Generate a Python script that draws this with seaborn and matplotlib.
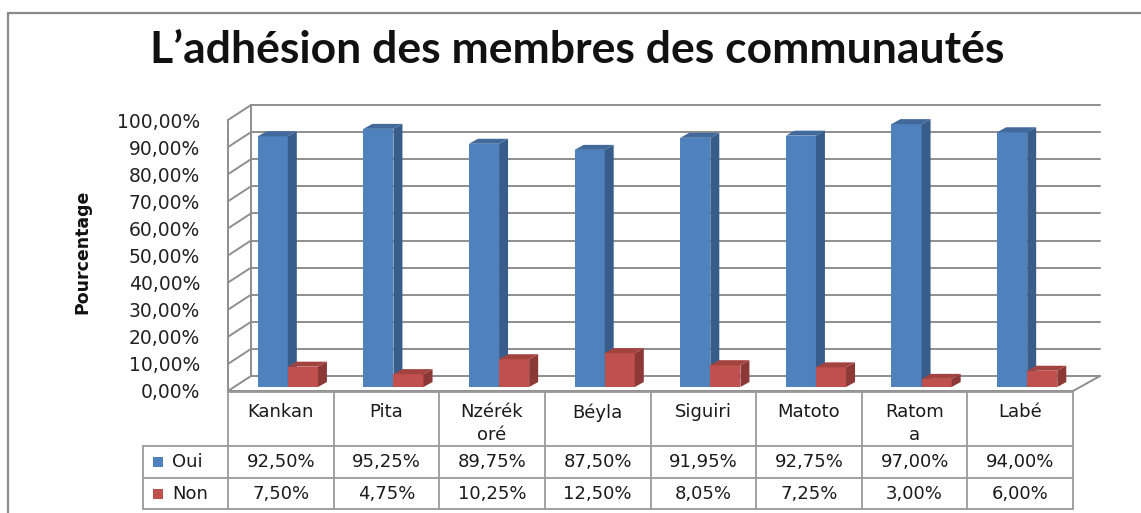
import numpy as np
import pandas as pd
import seaborn as sns
import matplotlib
matplotlib.use("Agg")
from matplotlib import pyplot as plt
from matplotlib.patches import Polygon, Rectangle
from matplotlib.lines import Line2D
import matplotlib.transforms as mtransforms

sns.set_theme(style="white")
plt.rcParams['font.family'] = ['DejaVu Sans']

communes = ["Kankan", "Pita", "Nzérékoré", "Béyla", "Siguiri", "Matoto", "Ratoma", "Labé"]
table_labels = ["Kankan", "Pita", "Nzérék\noré", "Béyla", "Siguiri", "Matoto", "Ratom\na", "Labé"]
oui = [92.50, 95.25, 89.75, 87.50, 91.95, 92.75, 97.00, 94.00]
non = [7.50, 4.75, 10.25, 12.50, 8.05, 7.25, 3.00, 6.00]
series = ["Oui", "Non"]
yticks = list(range(0, 101, 10))

colors = ["#4F81BD", "#C0504D"]
side_colors = ["#385D8A", "#8C3836"]
top_colors = ["#41699B", "#A3433F"]
grid_color = "#8E8E8E"
body_font = ["DejaVu Sans"]

df = pd.DataFrame({
    "Commune": communes * 2,
    "Valeur": oui + non,
    "Réponse": ["Oui"] * len(communes) + ["Non"] * len(communes),
})

W, H = 1141, 513
fig = plt.figure(figsize=(W / 100, H / 100), dpi=100)

# front edge of the floor / left wall in pixels
left_px, right_px, base_px, top_px = 228, 1073, 391, 120
ax = fig.add_axes([left_px / W, 1 - base_px / H,
                   (right_px - left_px) / W, (base_px - top_px) / H])

sns.barplot(data=df, x="Commune", y="Valeur", hue="Réponse", order=communes,
            hue_order=series, palette=colors, width=0.57, saturation=1,
            legend=False, ax=ax, errorbar=None, linewidth=0)
ax.set_xlim(-0.5, len(communes) - 0.5)
ax.set_ylim(0, 100)

# pixel -> data unit helpers
px_x = (len(communes)) / (right_px - left_px)
px_y = 100 / (base_px - top_px)

# 3D look: bars sit a bit back into the box
shift_x, shift_y = 7 * px_x, 4 * px_y
dx, dy = 9 * px_x, 5 * px_y
n = len(communes)
for i, p in enumerate(ax.patches[:2 * n]):
    s = i // n
    p.set_x(p.get_x() + shift_x)
    p.set_y(shift_y)
    p.set_zorder(3 + s)
    x0, x1 = p.get_x(), p.get_x() + p.get_width()
    y0, y1 = shift_y, shift_y + p.get_height()
    side = Polygon([(x1, y0), (x1, y1), (x1 + dx, y1 + dy), (x1 + dx, y0 + dy)],
                   closed=True, facecolor=side_colors[s], edgecolor="none",
                   zorder=3 + s + 0.1, clip_on=False)
    top = Polygon([(x0, y1), (x1, y1), (x1 + dx, y1 + dy), (x0 + dx, y1 + dy)],
                  closed=True, facecolor=top_colors[s], edgecolor="none",
                  zorder=3 + s + 0.1, clip_on=False)
    ax.add_patch(side)
    ax.add_patch(top)

# back wall, left wall, floor
wl, wr, wy = 23 * px_x, 27 * px_x, 15 * px_y
xl, xr = -0.5, n - 0.5
for t in yticks:
    ax.add_line(Line2D([xl + wl, xr + wr], [t + wy, t + wy], color=grid_color,
                       lw=1.4, zorder=1, clip_on=False))
    ax.add_line(Line2D([xl, xl + wl], [t, t + wy], color=grid_color,
                       lw=1.4, zorder=1, clip_on=False))
ax.add_line(Line2D([xl, xl], [0, 100], color=grid_color, lw=1.4, clip_on=False))
ax.add_line(Line2D([xl + wl, xl + wl], [wy, 100 + wy], color=grid_color, lw=1.4, clip_on=False))
ax.add_line(Line2D([xl, xr], [0, 0], color=grid_color, lw=1.4, clip_on=False))
ax.add_line(Line2D([xr, xr + wr], [0, wy], color=grid_color, lw=1.4, clip_on=False))

for sp in ax.spines.values():
    sp.set_visible(False)
ax.set_xticks([])
ax.set_yticks(yticks)
ax.set_yticklabels([f"{t},00%" for t in yticks], fontsize=13.5, color="#222222",
                   family=body_font)
ax.tick_params(axis="y", length=0, pad=20)
ax.set_xlabel("")
ax.set_ylabel("")

# data table under the chart
tr = mtransforms.blended_transform_factory(ax.transData, fig.transFigure)
def fy(px):
    return 1 - px / H

tc = "#9A9A9A"
row_top, row_head, row_oui, row_non = 392, 446, 478, 509
leg_left = xl - (left_px - 143) * px_x
for i in range(n + 1):
    fig.add_artist(Line2D([xl + i, xl + i], [fy(row_top), fy(row_non)], color=tc, lw=1.3, transform=tr))
fig.add_artist(Line2D([leg_left, leg_left], [fy(row_head), fy(row_non)], color=tc, lw=1.3, transform=tr))
fig.add_artist(Line2D([xl, xr], [fy(row_top), fy(row_top)], color=tc, lw=1.3, transform=tr))
for r in (row_head, row_oui, row_non):
    fig.add_artist(Line2D([leg_left, xr], [fy(r), fy(r)], color=tc, lw=1.3, transform=tr))

fs = 13
for i, lab in enumerate(table_labels):
    fig.text(i, fy(403), lab, transform=tr, ha="center", va="top", fontsize=fs,
             color="#1a1a1a", linespacing=1.35, family=body_font)
    fig.text(i, fy(462), f"{oui[i]:.2f}".replace(".", ",") + "%", transform=tr,
             ha="center", va="center", fontsize=fs, color="#1a1a1a", family=body_font)
    fig.text(i, fy(494), f"{non[i]:.2f}".replace(".", ",") + "%", transform=tr,
             ha="center", va="center", fontsize=fs, color="#1a1a1a", family=body_font)

for s, (lab, yc) in enumerate(zip(series, (462, 494))):
    fig.add_artist(Rectangle((153 / W, fy(yc + 5)), 10 / W, 10 / H,
                             facecolor=colors[s], edgecolor="none",
                             transform=fig.transFigure))
    fig.text(172 / W, fy(yc), lab, ha="left", va="center", fontsize=fs,
             color="#1a1a1a", family=body_font)

# titles
fig.text(577 / W, fy(50), "L\u2019adhésion des membres des communautés",
         ha="center", va="center", fontsize=32, fontweight="bold",
         family=["Lato", "DejaVu Sans"], color="#111111")
fig.text(82 / W, fy(252), "Pourcentage", rotation=90, ha="center", va="center",
         fontsize=12.5, fontweight="bold", family=body_font, color="#111111")

# chart frame
fig.add_artist(Line2D([8 / W, 8 / W], [fy(13), 0], color="#8A8A8A", lw=1.6,
                      transform=fig.transFigure))
fig.add_artist(Line2D([8 / W, 1], [fy(13), fy(13)], color="#8A8A8A", lw=1.6,
                      transform=fig.transFigure))

plt.savefig("out.png", dpi=100)
